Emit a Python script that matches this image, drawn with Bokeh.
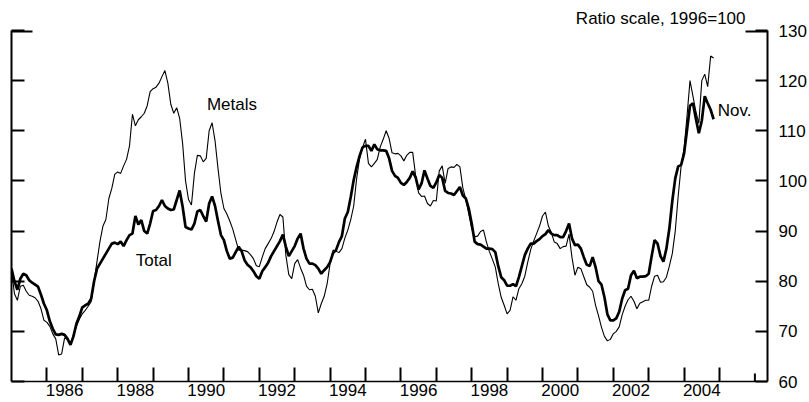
from bokeh.plotting import figure
from bokeh.models import Range1d, LinearAxis, FixedTicker, Label
from bokeh.embed import file_html
from bokeh.resources import INLINE

# ---- data: monthly, Jan 1985 .. Nov 2004 (1996 = 100) ----
start_year = 1985
total = [
    82.5, 80.0, 78.3, 80.5, 81.5, 81.2, 80.2, 79.7, 79.3, 78.9, 77.3, 75.5,   # 1985
    74.2, 72.0, 70.5, 69.4, 69.3, 69.5, 69.3, 68.5, 67.3, 69.0, 71.5, 73.0,   # 1986
    74.8, 75.2, 75.5, 76.5, 80.0, 82.5, 83.5, 84.5, 85.5, 86.5, 87.5, 87.7,   # 1987
    87.4, 87.9, 87.0, 88.2, 89.2, 89.5, 93.0, 91.3, 92.2, 90.0, 89.5, 91.5,   # 1988
    94.0, 94.2, 95.0, 96.2, 95.0, 94.5, 94.2, 94.3, 96.2, 98.1, 94.9, 90.8,   # 1989
    90.5, 90.3, 91.5, 93.9, 94.2, 93.0, 91.9, 95.5, 96.9, 95.0, 92.0, 89.2,   # 1990
    88.2, 86.0, 84.5, 84.7, 85.8, 86.9, 86.0, 84.2, 83.3, 82.8, 82.0, 81.0,   # 1991
    80.5, 82.0, 82.8, 83.7, 85.0, 86.0, 87.0, 88.0, 89.3, 86.9, 85.0, 86.0,   # 1992
    87.0, 88.5, 89.5, 86.5, 84.5, 83.5, 83.5, 83.2, 82.5, 81.5, 82.2, 82.8,   # 1993
    83.8, 85.6, 86.2, 87.8, 89.0, 92.5, 93.8, 96.8, 100.2, 102.8, 105.0, 106.7,  # 1994
    107.0, 107.0, 106.0, 107.3, 106.3, 106.1, 106.1, 106.0, 104.5, 102.0, 101.0, 100.6,  # 1995
    99.6, 99.2, 99.8, 100.6, 101.9, 100.7, 98.3, 99.5, 102.1, 100.5, 99.0, 98.6,  # 1996
    99.7, 101.2, 100.6, 98.0, 97.6, 97.5, 97.2, 98.0, 98.8, 97.1, 96.5, 94.5,   # 1997
    91.5, 87.9, 87.4, 87.3, 86.9, 86.5, 86.5, 86.4, 85.8, 83.0, 80.8, 80.2,   # 1998
    79.1, 79.1, 79.4, 79.0, 80.8, 83.0, 85.2, 86.5, 87.5, 87.5, 88.0, 88.4,   # 1999
    89.0, 89.4, 90.2, 89.5, 89.2, 89.2, 88.8, 88.8, 90.0, 91.5, 88.5, 87.2,   # 2000
    87.3, 86.5, 84.8, 83.3, 83.0, 84.8, 82.8, 80.0, 79.3, 76.8, 73.4, 72.2,   # 2001
    72.2, 72.6, 73.9, 76.5, 78.2, 78.5, 81.2, 82.1, 80.6, 80.9, 80.9, 81.0,   # 2002
    81.5, 85.0, 88.2, 87.5, 85.0, 83.9, 86.5, 90.5, 96.0, 100.5, 102.9, 103.2,  # 2003
    105.5, 110.2, 115.0, 115.5, 112.4, 109.5, 112.0, 116.9, 115.5, 114.2, 112.3,  # 2004
]
metals = [
    82.3, 77.5, 76.2, 79.0, 79.2, 78.0, 77.2, 77.0, 76.7, 76.0, 74.5, 72.2,   # 1985
    71.8, 71.0, 69.5, 68.5, 65.3, 65.5, 68.7, 68.4, 67.5, 69.3, 71.0, 72.4,   # 1986
    73.5, 74.2, 75.0, 75.9, 80.0, 84.0, 88.0, 91.0, 92.3, 96.5, 98.5, 101.3,  # 1987
    101.8, 101.5, 103.0, 104.3, 107.0, 113.3, 111.0, 112.2, 112.8, 113.5, 115.0, 117.8,  # 1988
    118.4, 118.7, 119.5, 120.8, 122.0, 119.5, 115.3, 113.5, 114.6, 112.5, 107.5, 100.0,  # 1989
    96.3, 95.2, 101.5, 105.1, 105.0, 103.8, 104.5, 110.0, 111.6, 108.0, 102.5, 97.5,  # 1990
    94.5, 93.4, 92.0, 90.4, 88.3, 86.2, 86.2, 86.1, 85.9, 85.3, 84.5, 83.1,   # 1991
    82.9, 84.8, 86.5, 87.5, 88.5, 89.9, 91.8, 93.3, 92.8, 85.2, 81.3, 80.5,   # 1992
    83.5, 84.3, 82.6, 81.2, 79.0, 78.3, 78.4, 77.0, 73.7, 75.5, 77.0, 79.5,   # 1993
    83.5, 86.2, 86.0, 85.7, 86.5, 88.6, 90.2, 92.3, 95.0, 100.5, 104.5, 106.7,  # 1994
    108.3, 103.5, 102.8, 103.5, 104.3, 106.8, 108.3, 110.0, 108.5, 105.6, 105.4, 105.5,  # 1995
    105.0, 104.0, 105.1, 105.7, 105.7, 101.0, 97.6, 96.9, 97.0, 95.5, 95.0, 96.1,  # 1996
    96.0, 102.0, 103.0, 99.5, 102.5, 102.8, 102.7, 103.3, 102.8, 98.6, 96.3, 93.5,  # 1997
    90.5, 88.9, 89.0, 89.9, 90.2, 87.8, 85.9, 84.4, 82.8, 79.5, 76.8, 75.2,   # 1998
    73.5, 74.2, 76.9, 76.2, 78.5, 79.5, 81.0, 83.8, 86.3, 88.0, 89.5, 91.0,   # 1999
    93.0, 93.8, 91.0, 89.7, 87.8, 87.5, 86.5, 86.9, 87.0, 89.4, 84.7, 81.2,   # 2000
    82.8, 82.5, 80.9, 79.3, 78.8, 78.0, 75.2, 73.1, 70.8, 69.0, 68.1, 68.4,   # 2001
    69.5, 70.0, 70.9, 73.3, 75.0, 76.3, 77.0, 76.0, 74.5, 75.6, 75.9, 76.2,   # 2002
    76.2, 79.0, 81.0, 81.2, 79.8, 79.9, 80.8, 83.0, 85.5, 90.0, 97.0, 103.0,  # 2003
    106.5, 113.0, 120.0, 116.9, 113.8, 111.5, 120.0, 121.3, 118.8, 124.9, 124.5,  # 2004
]
y_ticks = [60, 70, 80, 90, 100, 110, 120, 130]
year_ticks = list(range(1986, 2006))
year_labels = ["1986", "1988", "1990", "1992", "1994", "1996", "1998", "2000", "2002", "2004"]

dates = [start_year + i / 12 for i in range(len(total))]
label_pos = [int(s) + 0.5 for s in year_labels]

FONT = "Liberation Sans"
FS = "17px"

p = figure(width=809, height=402, output_backend="svg", toolbar_location=None,
           x_range=Range1d(1985.0, 2006.356), y_range=Range1d(60, 130),
           x_axis_location=None, y_axis_location=None,
           min_border_left=11, min_border_right=42, min_border_top=30, min_border_bottom=21)
p.grid.visible = False
p.outline_line_color = None
p.background_fill_color = "white"
p.border_fill_color = "white"

# title (ratio scale note)
p.title.text = "Ratio scale, 1996=100"
p.title.align = "right"
p.title.offset = 22
p.title.standoff = 6
p.title.text_font = FONT
p.title.text_font_size = FS
p.title.text_font_style = "normal"
p.title.text_color = "black"

# bottom axis: labels centred on years, ticks at year boundaries
xaxis = LinearAxis(ticker=FixedTicker(ticks=label_pos, minor_ticks=year_ticks),
                   major_label_overrides={pos: lab for pos, lab in zip(label_pos, year_labels)})
xaxis.major_tick_in = 0
xaxis.major_tick_out = 0
xaxis.minor_tick_in = 14
xaxis.minor_tick_out = 0
xaxis.minor_tick_line_width = 2
xaxis.minor_tick_line_color = "black"
xaxis.axis_line_width = 1.5
xaxis.axis_line_color = "black"
xaxis.major_label_standoff = 2
xaxis.major_label_text_font = FONT
xaxis.major_label_text_font_size = FS
xaxis.major_label_text_color = "black"
p.add_layout(xaxis, "below")

# right axis with labels
raxis = LinearAxis(ticker=FixedTicker(ticks=y_ticks, minor_ticks=[]))
raxis.major_tick_in = 12
raxis.major_tick_out = 0
raxis.major_tick_line_width = 2
raxis.axis_line_width = 2
raxis.major_label_standoff = 11
raxis.major_label_text_font = FONT
raxis.major_label_text_font_size = FS
raxis.major_label_text_color = "black"
p.add_layout(raxis, "right")

# left axis, ticks only (minor ticks, so no labels are drawn)
laxis = LinearAxis(ticker=FixedTicker(ticks=[], minor_ticks=y_ticks))
laxis.major_tick_in = 0
laxis.major_tick_out = 0
laxis.minor_tick_in = 13
laxis.minor_tick_out = 0
laxis.minor_tick_line_width = 2
laxis.minor_tick_line_color = "black"
laxis.axis_line_width = 2
laxis.major_label_standoff = 0
p.add_layout(laxis, "left")

# longer top ticks at 130, short end tick at 2006
xs = p.x_range
p.segment(x0=[xs.end - 22 / 35.4], y0=[130], x1=[xs.end], y1=[130], line_width=4, line_color="black")
p.segment(x0=[xs.start], y0=[130], x1=[xs.start + 21 / 35.4], y1=[130], line_width=4, line_color="black")
p.segment(x0=[2006], y0=[60], x1=[2006], y1=[61.6], line_width=2, line_color="black")

# series
p.line(dates, metals, line_color="black", line_width=1.1)
p.line(dates, total, line_color="black", line_width=2.7)

for txt, x, y in [("Metals", 1990.52, 115.2),
                  ("Total", 1988.51, 84.2),
                  ("Nov.", 2004.95, 114.0)]:
    p.add_layout(Label(x=x, y=y, text=txt, text_align="left", text_baseline="middle",
                       text_font=FONT, text_font_size=FS, text_color="black"))

open("out.html", "w").write(file_html(p, INLINE))
